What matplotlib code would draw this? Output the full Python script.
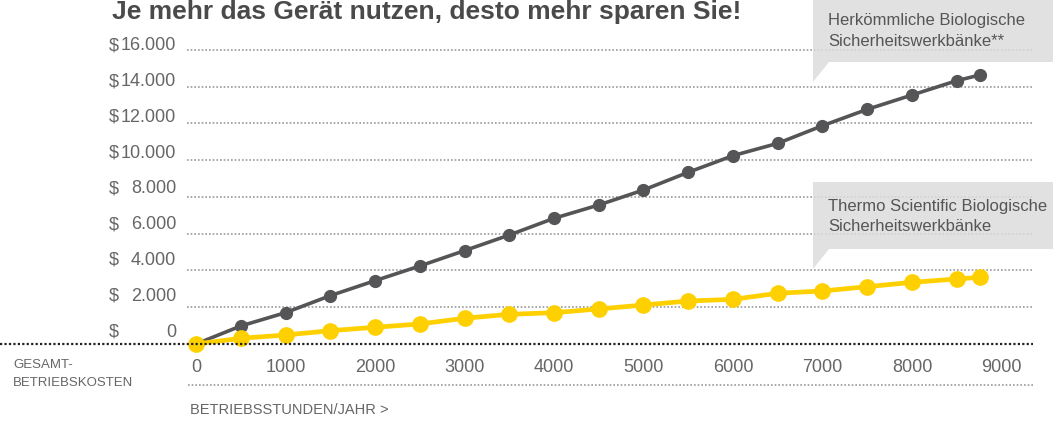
import matplotlib.pyplot as plt
from matplotlib.patches import Polygon
from matplotlib.transforms import ScaledTranslation, blended_transform_factory

# Betriebsstunden pro Jahr (0 ... 8760 = 24 * 365)
hours = [0, 500, 1000, 1500, 2000, 2500, 3000, 3500, 4000, 4500, 5000,
         5500, 6000, 6500, 7000, 7500, 8000, 8500, 8760]
# Gesamtbetriebskosten in $
cost_conventional = [0, 980, 1705, 2630, 3445, 4245, 5080, 5930, 6840, 7565, 8380,
                     9345, 10250, 10920, 11880, 12770, 13550, 14330, 14640]
cost_thermo = [0, 310, 490, 725, 910, 1090, 1400, 1615, 1705, 1905, 2120,
               2340, 2430, 2760, 2885, 3120, 3355, 3540, 3630]

y_ticks = [0, 2000, 4000, 6000, 8000, 10000, 12000, 14000, 16000]
y_labels = ["0", "2.000", "4.000", "6.000", "8.000", "10.000", "12.000", "14.000", "16.000"]
x_ticks = [0, 1000, 2000, 3000, 4000, 5000, 6000, 7000, 8000, 9000]

title = "Je mehr das Gerät nutzen, desto mehr sparen Sie!"
label_conventional = "Herkömmliche Biologische\nSicherheitswerkbänke**"
label_thermo = "Thermo Scientific Biologische\nSicherheitswerkbänke"

DARK = "#555557"
YELLOW = "#FFD000"
TEXT = "#666666"
GRID = "#9a9a9a"
BOX = "#dcdcdc"

plt.rcParams["font.family"] = ["Liberation Sans", "DejaVu Sans"]

W, H = 1064, 422
fig = plt.figure(figsize=(W / 100, H / 100), dpi=100)


def fx(px):
    return px / W


def fy(py):
    return 1 - py / H


# axes: left 187px, right 1033px, top 30px, bottom 350px
ax = fig.add_axes([fx(187), fy(350), fx(1033 - 187), (350 - 30) / H])
ax.set_xlim(-100.6, 9352)
ax.set_ylim(-326.5, 17088)
ax.axis("off")

# gridlines
for v in y_ticks[1:]:
    ax.axhline(v, color=GRID, lw=1.2, ls=(0, (1, 1.2)), zorder=1)

# zero line across the whole figure
fig.add_artist(plt.Line2D([0, fx(1033)], [fy(344), fy(344)], color="#222222",
                          lw=1.6, ls=(0, (1, 1)), zorder=2))
# dotted line under the x tick labels
fig.add_artist(plt.Line2D([fx(188), fx(1033)], [fy(385), fy(385)], color=GRID,
                          lw=1.2, ls=(0, (1, 1.2)), zorder=1))

ax.plot(hours, cost_conventional, color=DARK, lw=2.6, marker="o", ms=8.5,
        zorder=4, clip_on=False)
ax.plot(hours, cost_thermo, color=YELLOW, lw=3.4, marker="o", ms=11,
        zorder=5, clip_on=False)

# y labels: "$" left, number right-aligned, sitting a little above the gridline
lab_tr = blended_transform_factory(fig.transFigure, ax.transData)
for v, lab in zip(y_ticks, y_labels):
    off = ScaledTranslation(0, (12 - v / 2000) / 100, fig.dpi_scale_trans)
    ax.text(fx(109), v, "$", transform=lab_tr + off, ha="left", va="center",
            fontsize=13, color=TEXT)
    ax.text(fx(176), v, lab, transform=lab_tr + off, ha="right", va="center",
            fontsize=13, color=TEXT)

# x labels
xlab_tr = blended_transform_factory(ax.transData, fig.transFigure)
for t in x_ticks:
    ax.text(t, fy(367), str(t), transform=xlab_tr, ha="center", va="center",
            fontsize=13, color=TEXT)

fig.text(fx(13), fy(374), "GESAMT-\nBETRIEBSKOSTEN", ha="left", va="center",
         fontsize=9.5, color=TEXT, linespacing=1.75)
fig.text(fx(190), fy(410), "BETRIEBSSTUNDEN/JAHR >", ha="left", va="center",
         fontsize=10.5, color=TEXT)

# title at the very top edge
fig.text(fx(112), fy(19), title, ha="left", va="baseline", fontsize=19,
         fontweight="bold", color="#4a4a4a")


def callout(top, bottom, text):
    pts = [(813, top), (1053, top), (1053, bottom), (829, bottom),
           (813, bottom + 20), (813, top)]
    poly = Polygon([(fx(x), fy(y)) for x, y in pts], closed=True,
                   transform=fig.transFigure, facecolor=BOX, edgecolor="none",
                   alpha=0.85, zorder=3)
    fig.add_artist(poly)
    fig.text(fx(828), fy((top + bottom) / 2 + 1), text, ha="left", va="center",
             fontsize=12, color="#555555", linespacing=1.45, zorder=6)


callout(-2, 62, label_conventional)
callout(182, 249, label_thermo)

fig.savefig("out.png", dpi=100)
